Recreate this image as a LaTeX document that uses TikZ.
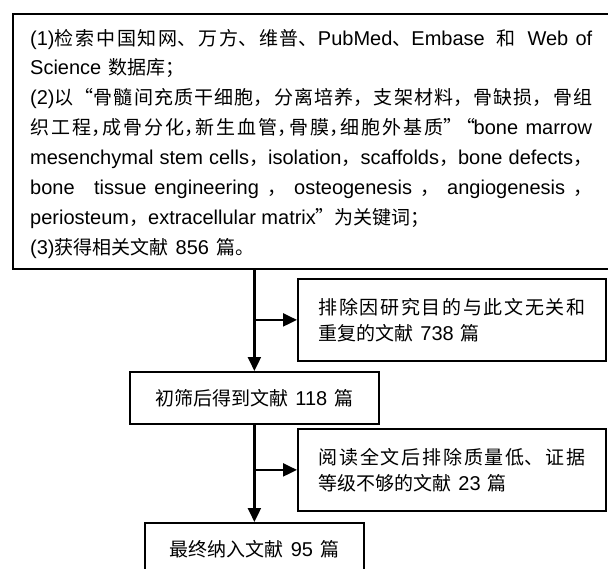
\documentclass[tikz,border=0pt]{standalone}
\usepackage{fontspec}
\setmainfont{Liberation Sans}
\newfontfamily\cjkf[Scale=0.95]{Noto Sans CJK SC}
\usetikzlibrary{arrows.meta}
\newcommand\zh[1]{{\cjkf #1}}
\newcommand\zsp{\hskip 0.35em plus 0.4em minus 0.1em\relax}
\newcommand\cc{\zh{，}\kern-0.38em\relax}
\XeTeXlinebreaklocale "zh"
\XeTeXlinebreakskip=0pt plus 3pt
\tikzset{
  box/.style={draw, line width=1.8pt, rectangle, anchor=north west, inner sep=0pt,
    font=\fontsize{20}{26}\selectfont},
  jbox/.style={box, align=justify, text width=267pt, inner xsep=20.5pt,
    execute at begin node={\hyphenpenalty=10000 \tolerance=10000 }},
  conn/.style={line width=2.2pt},
  arr/.style={conn, -{Triangle[length=14pt,width=13pt]}}
}
\begin{document}
\begin{tikzpicture}[x=1pt,y=-1pt]
\clip (0,0) rectangle (608,568);
\fill[white] (0,0) rectangle (608,568);
% top box
\node[box, minimum width=605pt, minimum height=255pt] (top) at (12,13) {};
\node[anchor=base west, inner sep=0pt, text width=562pt, align=justify,
  font=\fontsize{20}{29.9}\selectfont,
  execute at begin node={\hyphenpenalty=10000 \exhyphenpenalty=10000 \tolerance=10000 }]
  (toptxt) at (30,45) {%
(1)\zh{检索中国知网、万方、维普、}PubMed\zh{、}Embase\zsp\zh{和}\zsp Web of\linebreak
Science\zsp\zh{数据库；}\newline
(2)\zh{以“骨髓间充质干细胞，分离培养，支架材料，骨缺损，骨组}\linebreak
\zh{织工程}\cc\zh{成骨分化}\cc\zh{新生血管}\cc\zh{骨膜}\cc\zh{细胞外基质”}\kern-0.3em\zh{“}\kern-0.1em bone marrow\linebreak
mesenchymal stem cells\zh{，}isolation\zh{，}scaffolds\zh{，}bone defects\zh{，}\linebreak
bone\hskip 0.7em plus 0.3em tissue engineering \zh{，} osteogenesis \zh{，} angiogenesis \zh{，}\linebreak
periosteum\zh{，}extracellular matrix\zh{”为关键词；}\newline
(3)\zh{获得相关文献}\zsp 856\zsp\zh{篇。}};
% exclusion boxes
\node[jbox, minimum height=82pt] (ex1) at (297,278)
  {\zh{排除因研究目的与此文无关和}\linebreak\zh{重复的文献}\zsp 738\zsp\zh{篇}};
\node[box, minimum width=249pt, minimum height=52pt] (b3) at (129,371)
  {\zh{初筛后得到文献}\zsp 118\zsp\zh{篇}};
\node[jbox, minimum height=82pt] (ex2) at (297,428)
  {\zh{阅读全文后排除质量低、证据}\linebreak\zh{等级不够的文献}\zsp 23\zsp\zh{篇}};
\node[box, minimum width=219pt, minimum height=52pt] (b5) at (144,522)
  {\zh{最终纳入文献}\zsp 95\zsp\zh{篇}};
% connectors
\draw[arr] (b3.north |- top.south) -- (b3.north);
\draw[arr] (b3.north |- ex1.west) -- (ex1.west);
\draw[arr] (b3.south) -- (b5.north);
\draw[arr] (b3.south |- ex2.west) -- (ex2.west);
\end{tikzpicture}
\end{document}
